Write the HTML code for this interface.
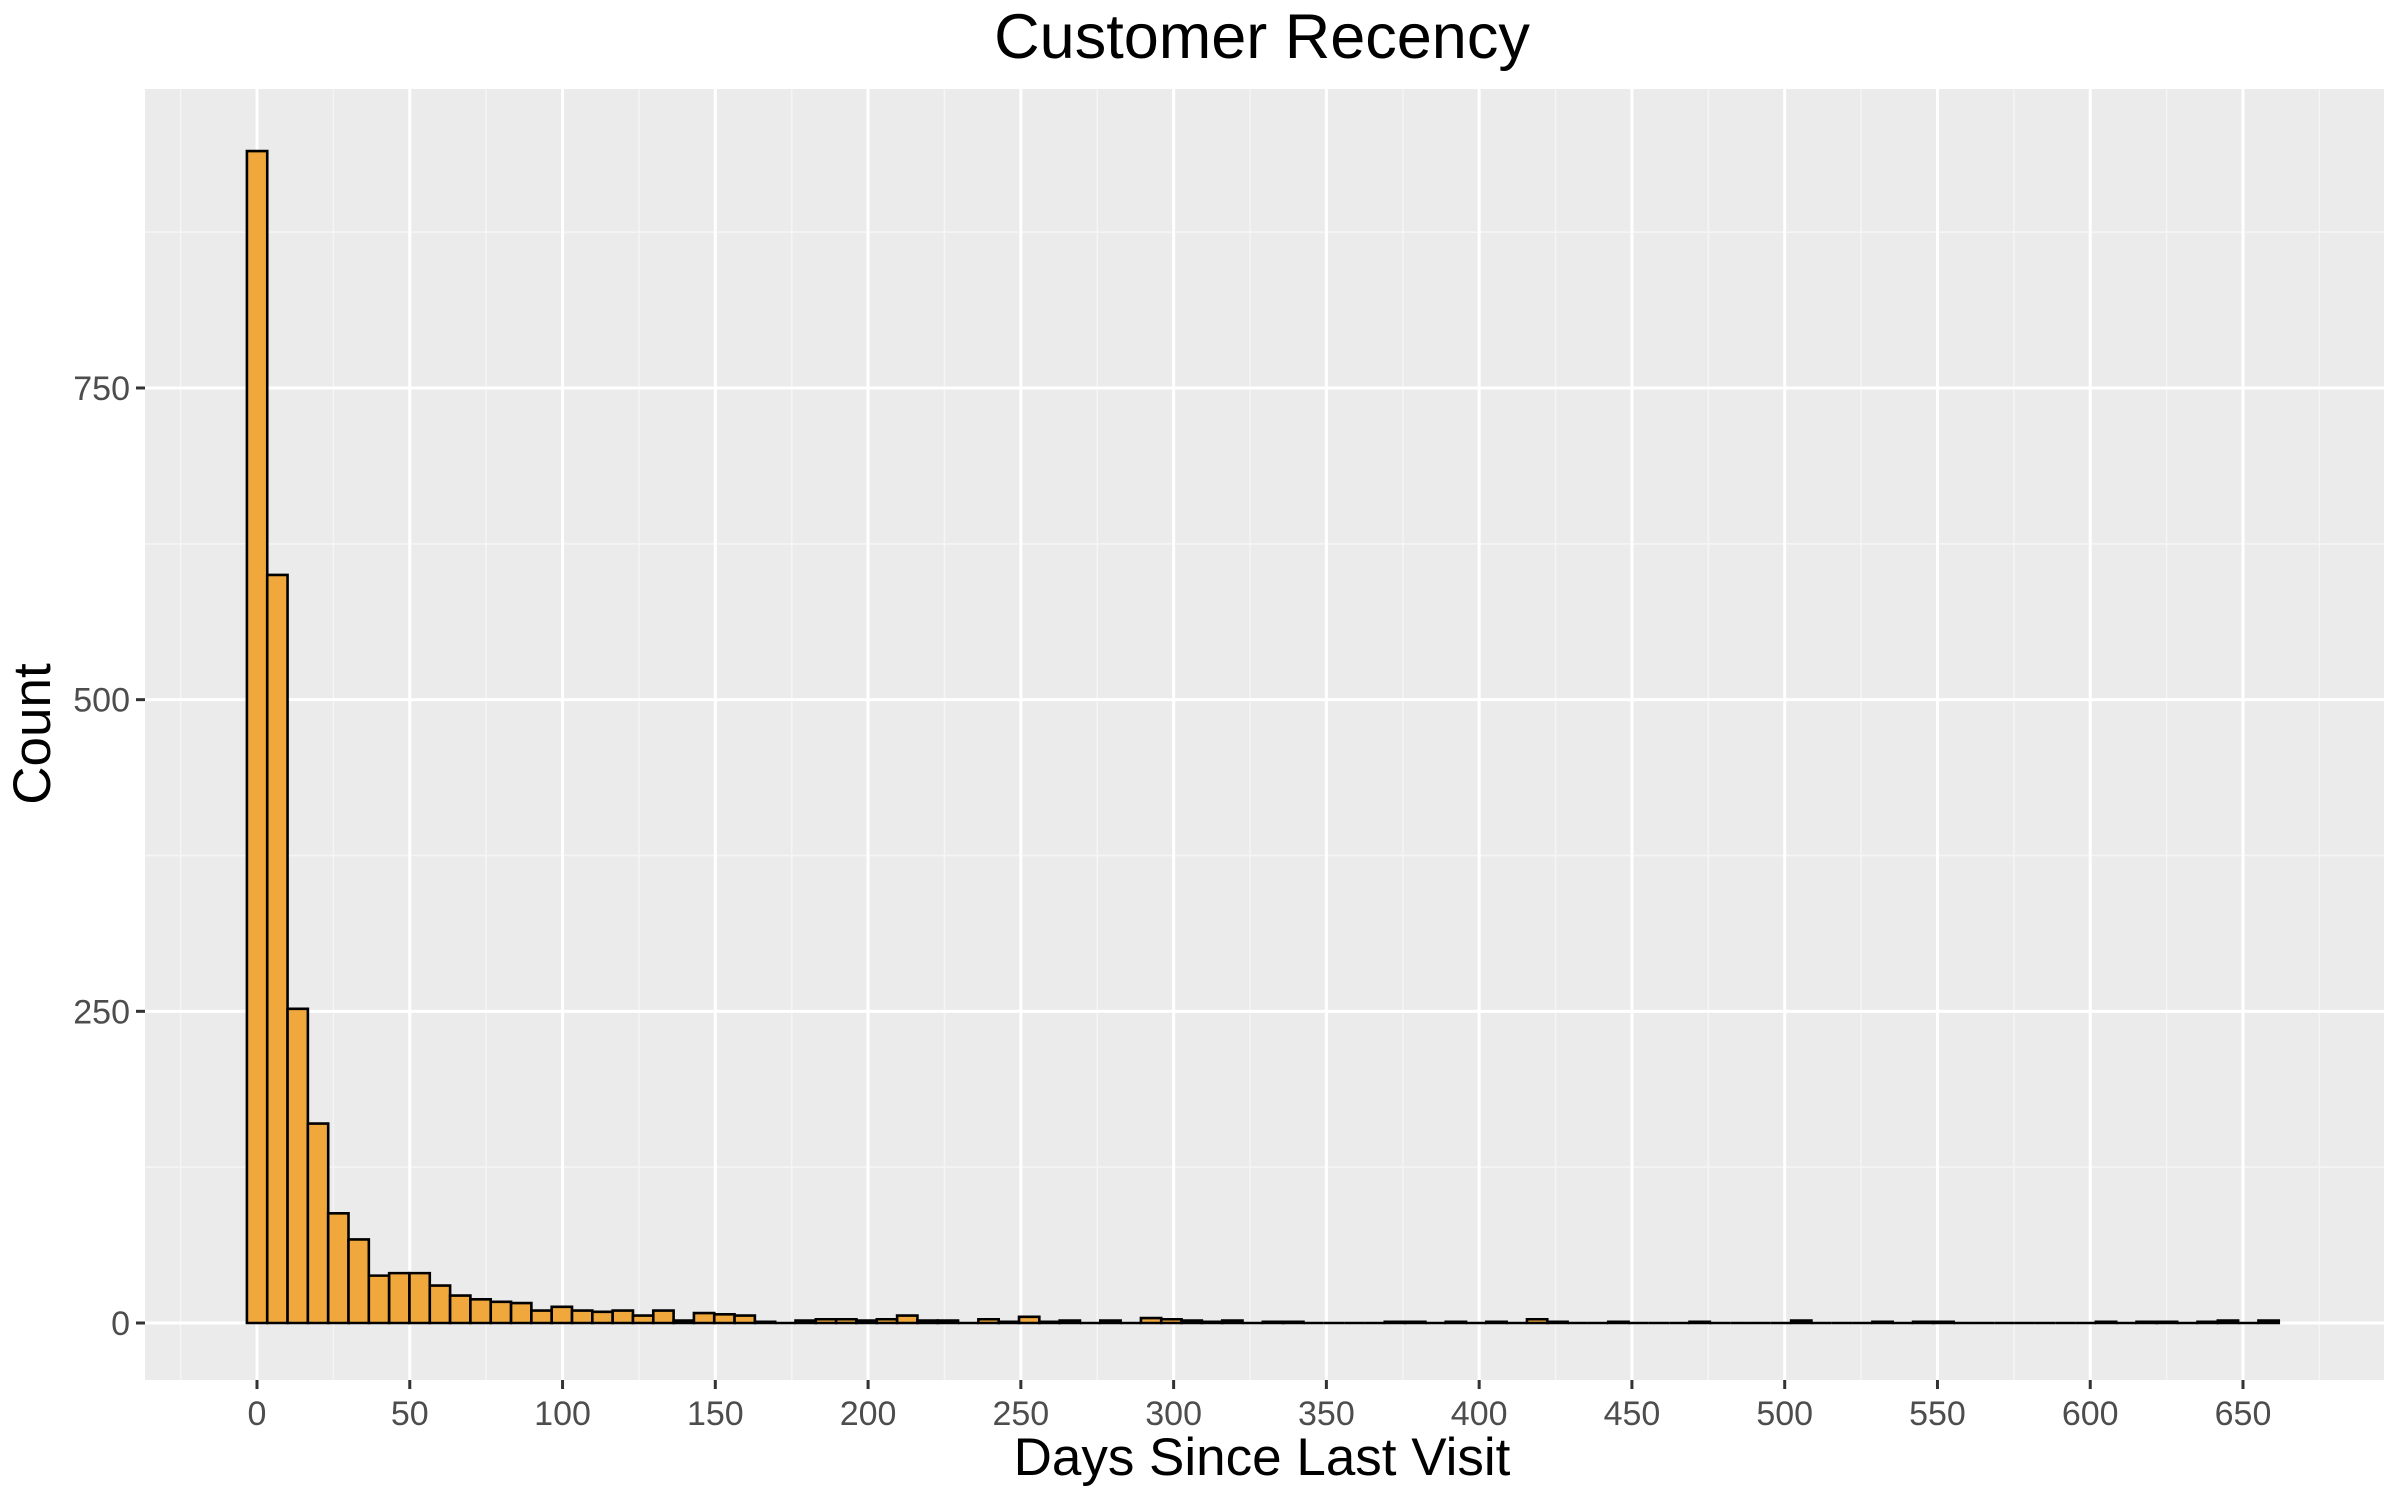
<!DOCTYPE html>
<html><head><meta charset="utf-8"><style>
html,body{margin:0;padding:0;background:#fff;}
svg{display:block;font-family:"Liberation Sans",Arial,sans-serif;}
</style></head><body>
<svg id="chart" width="2396" height="1498" viewBox="0 0 2396 1498" xmlns="http://www.w3.org/2000/svg">
<rect x="0" y="0" width="2396" height="1498" fill="#ffffff"/>
<rect x="145" y="89" width="2239" height="1291" fill="#ebebeb"/>
<g id="grid"></g>
<g id="bars"></g>
<g id="xaxis"></g>
<g id="yaxis"></g>
<text x="1262" y="58" text-anchor="middle" font-size="63" fill="#000">Customer Recency</text>
<text x="1262" y="1475" text-anchor="middle" font-size="53" fill="#000">Days Since Last Visit</text>
<text x="0" y="0" transform="translate(50,734) rotate(-90)" text-anchor="middle" font-size="53" fill="#000">Count</text>
</svg>
<script>
const binStart = -3.3;
const binWidth = 6.65;
const counts = [940,600,252,160,88,67,38,40,40,30,22,19,17,16,10,13,10,9,10,6,10,2,8,7,6,
1,0,2,3,3,2,3,6,2,2,0,3,1,5,1,2,0,2,0,4,3,2,1,2,0,1,1,0,0,0,0,1,1,0,1,0,1,0,3,1,
0,0,1,0,0,0,1,0,0,0,0,2,0,0,0,1,0,1,1,0,0,0,0,0,0,0,1,0,1,1,0,1,2,0,2];
const xTicks = [0,50,100,150,200,250,300,350,400,450,500,550,600,650];
const yTicks = [0,250,500,750];

const NS = "http://www.w3.org/2000/svg";
const X0 = 145, X1 = 2384, Y0 = 89, Y1 = 1380;
function xs(v){ return 257 + v * 3.0554; }
function ys(v){ return 1323 - v * 1.2467; }
function mk(tag, attrs, parent){
  const e = document.createElementNS(NS, tag);
  for (const k in attrs) e.setAttribute(k, attrs[k]);
  parent.appendChild(e);
  return e;
}
const grid = document.getElementById('grid');
for (let v = -25; v <= 700; v += 50) {
  const x = xs(v);
  if (x < X0 || x > X1) continue;
  const l = mk('line', {x1:x, x2:x, y1:Y0, y2:Y1, stroke:'#f5f5f5', 'stroke-width':1.5}, grid);
  
  
}
for (let v = 125; v <= 1000; v += 250) {
  const y = ys(v);
  if (y < Y0) continue;
  const l = mk('line', {x1:X0, x2:X1, y1:y, y2:y, stroke:'#f5f5f5', 'stroke-width':1.5}, grid);
  
  
}
xTicks.forEach(v => {
  const x = xs(v);
  const l = mk('line', {x1:x, x2:x, y1:Y0, y2:Y1, stroke:'#ffffff', 'stroke-width':3}, grid);
  
  
});
yTicks.forEach(v => {
  const y = ys(v);
  const l = mk('line', {x1:X0, x2:X1, y1:y, y2:y, stroke:'#ffffff', 'stroke-width':3}, grid);
  
  
});
const bars = document.getElementById('bars');
counts.forEach((c, i) => {
  const a = binStart + i * binWidth, b = a + binWidth;
  const xa = xs(a), xb = xs(b);
  const yt = ys(c), yb = ys(0);
  const d = c > 0
    ? `M${xa},${yb} V${yt} H${xb} V${yb} Z`
    : `M${xa},${yb} H${xb}`;
  const r = mk('path', {d:d, fill:'#f0a83c', stroke:'#000', 'stroke-width':2.6, 'stroke-linejoin':'miter'}, bars);
  
  
});
const xa = document.getElementById('xaxis');
xTicks.forEach(v => {
  const x = xs(v);
  const t = mk('line', {x1:x, x2:x, y1:Y1, y2:Y1 + 9, stroke:'#333', 'stroke-width':3}, xa);
  
  
  const l = mk('text', {x:x, y:1425, 'text-anchor':'middle', 'font-size':34, fill:'#4d4d4d'}, xa);
  l.textContent = v;
  
  
});
const ya = document.getElementById('yaxis');
yTicks.forEach(v => {
  const y = ys(v);
  const t = mk('line', {x1:X0 - 9, x2:X0, y1:y, y2:y, stroke:'#333', 'stroke-width':3}, ya);
  
  
  const l = mk('text', {x:X0 - 15, y:y + 12, 'text-anchor':'end', 'font-size':34, fill:'#4d4d4d'}, ya);
  l.textContent = v;
  
  
});
</script>
</body></html>
